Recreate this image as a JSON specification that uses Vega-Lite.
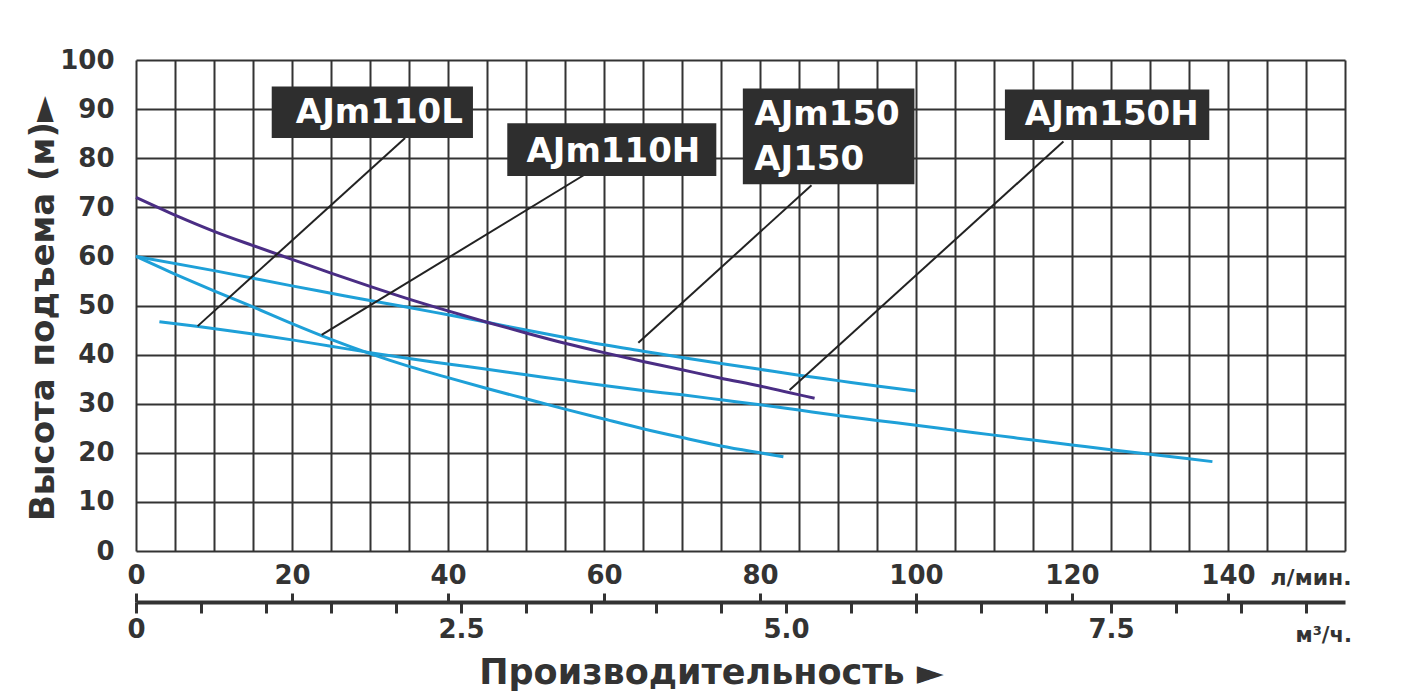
{
  "$schema": "https://vega.github.io/schema/vega-lite/v6.json",
  "width": 1209,
  "height": 491,
  "autosize": {"type": "none"},
  "padding": {"left": 136, "top": 60, "right": 75, "bottom": 143},
  "background": "white",
  "config": {"view": {"stroke": null}},
  "resolve": {"axis": {"x": "independent", "y": "shared"}},
  "datasets": {
    "curves": [
      {"series": "AJm110L", "q": 3, "h": 46.7},
      {"series": "AJm110L", "q": 8, "h": 45.7},
      {"series": "AJm110L", "q": 15, "h": 44.2},
      {"series": "AJm110L", "q": 20, "h": 43.0},
      {"series": "AJm110L", "q": 25, "h": 41.7},
      {"series": "AJm110L", "q": 30, "h": 40.4},
      {"series": "AJm110L", "q": 35, "h": 39.2},
      {"series": "AJm110L", "q": 40, "h": 38.1},
      {"series": "AJm110L", "q": 45, "h": 37.0},
      {"series": "AJm110L", "q": 50, "h": 35.9},
      {"series": "AJm110L", "q": 55, "h": 34.8},
      {"series": "AJm110L", "q": 60, "h": 33.7},
      {"series": "AJm110L", "q": 65, "h": 32.7},
      {"series": "AJm110L", "q": 70, "h": 31.8},
      {"series": "AJm110L", "q": 75, "h": 30.8},
      {"series": "AJm110L", "q": 80, "h": 29.8},
      {"series": "AJm110L", "q": 85, "h": 28.7},
      {"series": "AJm110L", "q": 90, "h": 27.6},
      {"series": "AJm110L", "q": 95, "h": 26.6},
      {"series": "AJm110L", "q": 100, "h": 25.6},
      {"series": "AJm110L", "q": 105, "h": 24.6},
      {"series": "AJm110L", "q": 110, "h": 23.6},
      {"series": "AJm110L", "q": 115, "h": 22.6},
      {"series": "AJm110L", "q": 120, "h": 21.6},
      {"series": "AJm110L", "q": 125, "h": 20.6},
      {"series": "AJm110L", "q": 130, "h": 19.7},
      {"series": "AJm110L", "q": 135, "h": 18.8},
      {"series": "AJm110L", "q": 138, "h": 18.2},
      {"series": "AJm110H", "q": 0, "h": 60},
      {"series": "AJm110H", "q": 5, "h": 56.4},
      {"series": "AJm110H", "q": 10, "h": 53.0},
      {"series": "AJm110H", "q": 15, "h": 49.7},
      {"series": "AJm110H", "q": 20, "h": 46.3},
      {"series": "AJm110H", "q": 25, "h": 43.1},
      {"series": "AJm110H", "q": 30, "h": 40.2},
      {"series": "AJm110H", "q": 35, "h": 37.6},
      {"series": "AJm110H", "q": 40, "h": 35.3},
      {"series": "AJm110H", "q": 45, "h": 33.1},
      {"series": "AJm110H", "q": 50, "h": 31.0},
      {"series": "AJm110H", "q": 55, "h": 28.9},
      {"series": "AJm110H", "q": 60, "h": 26.9},
      {"series": "AJm110H", "q": 65, "h": 24.9},
      {"series": "AJm110H", "q": 70, "h": 23.1},
      {"series": "AJm110H", "q": 75, "h": 21.4},
      {"series": "AJm110H", "q": 80, "h": 20.0},
      {"series": "AJm110H", "q": 83, "h": 19.2},
      {"series": "AJm150", "q": 0, "h": 60},
      {"series": "AJm150", "q": 10, "h": 57.1},
      {"series": "AJm150", "q": 20, "h": 54.0},
      {"series": "AJm150", "q": 25, "h": 52.5},
      {"series": "AJm150", "q": 30, "h": 51.0},
      {"series": "AJm150", "q": 35, "h": 49.6},
      {"series": "AJm150", "q": 40, "h": 48.1},
      {"series": "AJm150", "q": 45, "h": 46.6},
      {"series": "AJm150", "q": 50, "h": 45.0},
      {"series": "AJm150", "q": 55, "h": 43.5},
      {"series": "AJm150", "q": 60, "h": 42.0},
      {"series": "AJm150", "q": 65, "h": 40.7},
      {"series": "AJm150", "q": 70, "h": 39.4},
      {"series": "AJm150", "q": 75, "h": 38.2},
      {"series": "AJm150", "q": 80, "h": 37.0},
      {"series": "AJm150", "q": 85, "h": 35.8},
      {"series": "AJm150", "q": 90, "h": 34.7},
      {"series": "AJm150", "q": 95, "h": 33.6},
      {"series": "AJm150", "q": 100, "h": 32.6},
      {"series": "AJm150H", "q": 0, "h": 72},
      {"series": "AJm150H", "q": 5, "h": 68.4},
      {"series": "AJm150H", "q": 10, "h": 65.1},
      {"series": "AJm150H", "q": 15, "h": 62.2},
      {"series": "AJm150H", "q": 20, "h": 59.4},
      {"series": "AJm150H", "q": 25, "h": 56.6},
      {"series": "AJm150H", "q": 30, "h": 53.9},
      {"series": "AJm150H", "q": 35, "h": 51.3},
      {"series": "AJm150H", "q": 40, "h": 48.9},
      {"series": "AJm150H", "q": 45, "h": 46.6},
      {"series": "AJm150H", "q": 50, "h": 44.4},
      {"series": "AJm150H", "q": 55, "h": 42.3},
      {"series": "AJm150H", "q": 60, "h": 40.4},
      {"series": "AJm150H", "q": 65, "h": 38.6},
      {"series": "AJm150H", "q": 70, "h": 36.9},
      {"series": "AJm150H", "q": 75, "h": 35.2},
      {"series": "AJm150H", "q": 80, "h": 33.6},
      {"series": "AJm150H", "q": 87, "h": 31.1}
    ],
    "leaders": [
      {"x": 34.5, "y": 84.1, "x2": 7.9, "y2": 45.8},
      {"x": 58.8, "y": 77.9, "x2": 23.8, "y2": 44.0},
      {"x": 86.6, "y": 74.5, "x2": 64.4, "y2": 42.4},
      {"x": 118.9, "y": 83.4, "x2": 83.8, "y2": 32.8}
    ],
    "boxes": [
      {"x": 17.4, "x2": 43.2, "y": 84.1, "y2": 94.6},
      {"x": 47.6, "x2": 74.4, "y": 76.4, "y2": 87.1},
      {"x": 77.8, "x2": 99.8, "y": 74.7, "y2": 94.2},
      {"x": 111.4, "x2": 137.6, "y": 83.7, "y2": 94.0}
    ],
    "labels": [
      {"x": 31.2, "y": 87.1, "label": "AJm110L"},
      {"x": 61.2, "y": 79.3, "label": "AJm110H"},
      {"x": 88.6, "y": 86.8, "label": "AJm150"},
      {"x": 86.3, "y": 77.6, "label": "AJ150"},
      {"x": 125.1, "y": 86.8, "label": "AJm150H"}
    ]
  },
  "layer": [
    {
      "data": {"name": "curves"},
      "mark": {"type": "line", "strokeWidth": 3, "interpolate": "monotone"},
      "encoding": {
        "x": {
          "field": "q", "type": "quantitative",
          "scale": {"domain": [0, 155], "nice": false, "zero": false},
          "axis": {
            "orient": "bottom",
            "values": [0,5,10,15,20,25,30,35,40,45,50,55,60,65,70,75,80,85,90,95,100,105,110,115,120,125,130,135,140,145,150,155],
            "grid": true, "gridColor": "#333333", "gridWidth": 2, "gridOpacity": 1,
            "ticks": false, "tickSize": 0, "domain": false,
            "labelExpr": "datum.value % 20 === 0 && datum.value <= 140 ? datum.label : ''",
            "labelFont": "DejaVu Sans", "labelFontWeight": "bold", "labelFontSize": 26, "labelColor": "#333333",
            "labelPadding": 11, "labelOverlap": false, "labelFlush": false, "labelBound": false,
            "title": "л/мин.", "titleFont": "DejaVu Sans", "titleFontSize": 22, "titleFontWeight": "bold", "titleColor": "#333333",
            "titleX": 1134, "titleY": 33, "titleAlign": "left", "titleBaseline": "alphabetic", "titleAngle": 0
          }
        },
        "y": {
          "field": "h", "type": "quantitative",
          "scale": {"domain": [0, 100], "nice": false},
          "axis": {
            "orient": "left",
            "values": [0,10,20,30,40,50,60,70,80,90,100],
            "grid": true, "gridColor": "#333333", "gridWidth": 2, "gridOpacity": 1,
            "ticks": false, "tickSize": 0, "domain": false,
            "labelFont": "DejaVu Sans", "labelFontWeight": "bold", "labelFontSize": 26, "labelColor": "#333333",
            "labelPadding": 22, "labelOverlap": false, "labelFlush": false, "labelBound": false,
            "title": "Высота подъема (м)►", "titleFont": "DejaVu Sans", "titleFontSize": 34, "titleFontWeight": "bold", "titleColor": "#333333",
            "titleX": -83, "titleY": 248, "titleAngle": 270, "titleAlign": "center", "titleBaseline": "alphabetic"
          }
        },
        "color": {
          "field": "series", "type": "nominal",
          "scale": {"domain": ["AJm110L", "AJm110H", "AJm150", "AJm150H"], "range": ["#1ea0d8", "#1ea0d8", "#1ea0d8", "#4a2d84"]},
          "legend": null
        }
      }
    },
    {
      "data": {"name": "leaders"},
      "mark": {"type": "rule", "color": "#222222", "strokeWidth": 2},
      "encoding": {
        "x": {
          "field": "x", "type": "quantitative",
          "scale": {"domain": [0, 155], "nice": false, "zero": false},
          "axis": {
            "orient": "bottom", "offset": 51,
            "values": [0, 8.33333, 16.66667, 25, 33.33333, 41.66667, 50, 58.33333, 66.66667, 75, 83.33333, 91.66667, 100, 108.33333, 116.66667, 125, 133.33333, 141.66667, 150],
            "grid": false, "domain": true, "domainColor": "#333333", "domainWidth": 4,
            "ticks": true, "tickColor": "#333333", "tickWidth": 3, "tickSize": 11,
            "labelExpr": "round(datum.value * 0.6) % 25 === 0 ? (datum.value < 1 ? '0' : format(datum.value * 0.06, '.1f')) : ''",
            "labelFont": "DejaVu Sans", "labelFontWeight": "bold", "labelFontSize": 26, "labelColor": "#333333",
            "labelPadding": 3, "labelOverlap": false, "labelFlush": false, "labelBound": false,
            "title": "м³/ч.", "titleFont": "DejaVu Sans", "titleFontSize": 21, "titleFontWeight": "bold", "titleColor": "#333333",
            "titleX": 1159, "titleY": 39, "titleAlign": "left", "titleBaseline": "alphabetic", "titleAngle": 0
          }
        },
        "y": {"field": "y", "type": "quantitative", "scale": {"domain": [0, 100], "nice": false}},
        "x2": {"field": "x2"},
        "y2": {"field": "y2"}
      }
    },
    {
      "data": {"name": "boxes"},
      "mark": {"type": "rect", "color": "#2e2e2e"},
      "encoding": {
        "x": {
          "field": "x", "type": "quantitative",
          "scale": {"domain": [0, 155], "nice": false, "zero": false},
          "axis": {
            "orient": "bottom", "offset": 51,
            "values": [0, 20, 40, 60, 80, 100, 120, 140],
            "grid": false, "domain": false,
            "ticks": true, "tickColor": "#333333", "tickWidth": 3, "tickSize": -9,
            "labels": false,
            "title": "Производительность ►", "titleFont": "DejaVu Sans", "titleFontSize": 35, "titleFontWeight": "bold", "titleColor": "#333333",
            "titleX": 575, "titleY": 81, "titleAlign": "center", "titleBaseline": "alphabetic", "titleAngle": 0
          }
        },
        "x2": {"field": "x2"},
        "y": {"field": "y", "type": "quantitative", "scale": {"domain": [0, 100], "nice": false}},
        "y2": {"field": "y2"}
      }
    },
    {
      "data": {"name": "labels"},
      "mark": {"type": "text", "font": "DejaVu Sans", "fontWeight": "bold", "fontSize": 34, "color": "white", "align": "center", "baseline": "alphabetic"},
      "encoding": {
        "x": {"field": "x", "type": "quantitative", "scale": {"domain": [0, 155], "nice": false, "zero": false}, "axis": null},
        "y": {"field": "y", "type": "quantitative", "scale": {"domain": [0, 100], "nice": false}},
        "text": {"field": "label"}
      }
    }
  ]
}
